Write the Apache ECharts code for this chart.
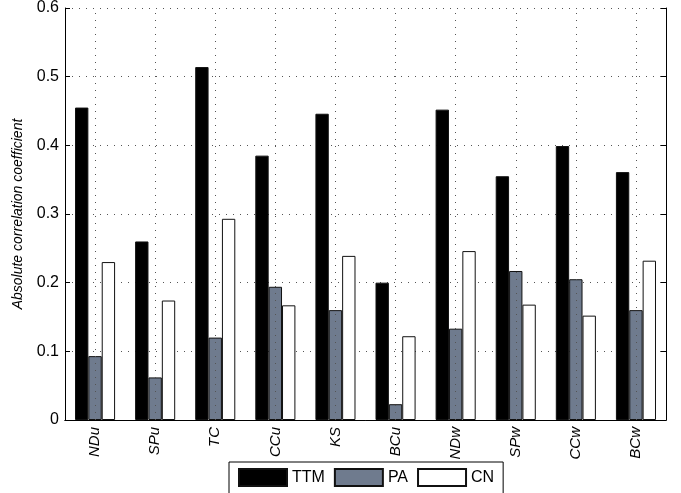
<!DOCTYPE html>
<html>
<head>
<meta charset="utf-8">
<script src="https://cdn.jsdelivr.net/npm/echarts@6/dist/echarts.min.js"></script>
<style>html,body{margin:0;padding:0;background:#fff}#c{width:681px;height:493px}</style>
</head>
<body>
<div id="c"></div>
<script>
var categories = ['NDu','SPu','TC','CCu','KS','BCu','NDw','SPw','CCw','BCw'];
var ttm = [0.455,0.260,0.514,0.385,0.446,0.200,0.452,0.355,0.399,0.361];
var pa  = [0.093,0.062,0.120,0.194,0.160,0.023,0.133,0.217,0.205,0.160];
var cn  = [0.230,0.174,0.293,0.167,0.239,0.122,0.246,0.168,0.152,0.232];
var yTicks = [0,0.1,0.2,0.3,0.4,0.5,0.6];
var seriesNames = ['TTM','PA','CN'];

var font = 'Liberation Sans, Arial, Helvetica, sans-serif';
var chart = echarts.init(document.getElementById('c'), null, {renderer:'canvas'});
var dotted = {color:'#555', width:1, type:[1,6]};
function bar(name, data, fill) {
  return {
    name:name, type:'bar', data:data, xAxisIndex:0, yAxisIndex:0, z:3,
    barGap:'0%', barCategoryGap:'33.3%',
    itemStyle:{color:fill, borderColor:'#111', borderWidth:1},
    emphasis:{disabled:true}
  };
}
chart.setOption({
  animation:false,
  backgroundColor:'#fff',
  textStyle:{fontFamily:font},
  grid:{left:65, right:15, top:8, bottom:73},
  legend:{
    data:seriesNames, left:229, top:462, orient:'horizontal',
    icon:'rect', itemWidth:48, itemHeight:17, itemGap:9,
    padding:[6,9,7,9], borderColor:'#000', borderWidth:1, backgroundColor:'#fff',
    textStyle:{fontSize:16, color:'#000', fontFamily:font}
  },
  xAxis:[
    {type:'category', data:categories, position:'bottom', boundaryGap:true,
     axisLine:{lineStyle:{color:'#000', width:1}},
     axisTick:{inside:true, alignWithLabel:true, length:5, lineStyle:{color:'#000'}},
     axisLabel:{rotate:90, fontStyle:'italic', fontSize:15, color:'#000', margin:7, fontFamily:font},
     splitLine:{show:false}},
    {type:'category', data:categories, position:'top', boundaryGap:true,
     axisLine:{lineStyle:{color:'#000', width:1}},
     axisTick:{inside:true, alignWithLabel:true, length:5, lineStyle:{color:'#000'}},
     axisLabel:{show:false}, splitLine:{show:false}}
  ],
  yAxis:[
    {type:'value', min:yTicks[0], max:yTicks[yTicks.length-1], interval:0.1, position:'left',
     name:'Absolute correlation coefficient', nameLocation:'middle', nameGap:40, nameRotate:90,
     nameTextStyle:{fontStyle:'italic', fontSize:14, color:'#000', fontFamily:font},
     axisLine:{show:true, lineStyle:{color:'#000', width:1}},
     axisTick:{show:true, inside:true, length:5, lineStyle:{color:'#000'}},
     axisLabel:{fontSize:16, color:'#000', margin:6, fontFamily:font,
       formatter:function(v){ return String(Math.round(v*10)/10); }},
     splitLine:{show:true, lineStyle:dotted}},
    {type:'value', min:yTicks[0], max:yTicks[yTicks.length-1], interval:0.1, position:'right',
     axisLine:{show:true, lineStyle:{color:'#000', width:1}},
     axisTick:{show:true, inside:true, length:5, lineStyle:{color:'#000'}},
     axisLabel:{show:false}, splitLine:{show:false}}
  ],
  series:[
    bar(seriesNames[0], ttm, '#000000'),
    bar(seriesNames[1], pa, '#6f7b8e'),
    bar(seriesNames[2], cn, '#ffffff'),
    {type:'line', name:'grid', data:[], xAxisIndex:0, yAxisIndex:0, z:1, silent:true,
     markLine:{silent:true, symbol:['none','none'], label:{show:false},
       lineStyle:dotted, animation:false,
       data:categories.map(function(c){ return {xAxis:c}; })}}
  ]
});
</script>
</body>
</html>
